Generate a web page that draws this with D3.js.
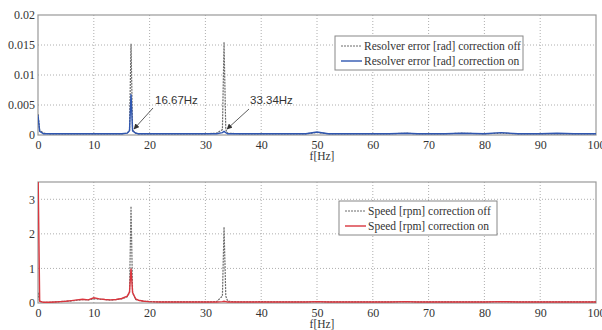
<!DOCTYPE html>
<html>
<head>
<meta charset="utf-8">
<script src="https://cdn.jsdelivr.net/npm/d3@7"></script>
<style>
  body { margin: 0; background: #fff; }
</style>
</head>
<body>
<svg id="chart" width="602" height="330"></svg>
<script>
/* shared frequency points (Hz) */
const freq = [0, 0.3, 1, 2, 3, 4, 5, 6, 7, 8, 9, 10, 11, 12, 13, 14, 15, 16, 16.4, 16.67, 16.95, 17.5, 18, 19, 20,
  22, 24, 26, 28, 30, 32, 33.05, 33.34, 33.65, 34, 36, 38, 40, 42, 45, 48, 50, 52, 55, 58, 60, 63, 66, 68, 70,
  73, 76, 80, 83, 86, 90, 93, 96, 100];

/* resolver error [rad] */
const errOff = [0.0035, 0.0008, 0.0003, 0.0002, 0.0002, 0.0002, 0.0002, 0.0002, 0.0002, 0.0002, 0.0002, 0.0002,
  0.0002, 0.0002, 0.0002, 0.0002, 0.0002, 0.0003, 0.0008, 0.0152, 0.0008, 0.0003, 0.0002, 0.0002, 0.0002,
  0.0002, 0.0002, 0.0002, 0.0002, 0.0002, 0.0003, 0.0009, 0.0155, 0.0009, 0.0003, 0.0002, 0.0002, 0.0002,
  0.0002, 0.0002, 0.0002, 0.0004, 0.0002, 0.0002, 0.0002, 0.0002, 0.0002, 0.0003, 0.0002, 0.0002,
  0.0002, 0.0003, 0.0002, 0.0003, 0.0002, 0.0002, 0.0002, 0.0002, 0.0002];
const errOn = [0.0033, 0.0006, 0.0002, 0.0002, 0.0002, 0.0002, 0.0002, 0.0002, 0.0002, 0.0002, 0.0002, 0.0002,
  0.0002, 0.0002, 0.0002, 0.0002, 0.0002, 0.0003, 0.0007, 0.0068, 0.0007, 0.0003, 0.0002, 0.0002, 0.0002,
  0.0002, 0.0002, 0.0002, 0.0002, 0.0002, 0.0002, 0.0004, 0.0006, 0.0004, 0.0002, 0.0002, 0.0002, 0.0002,
  0.0002, 0.0002, 0.0002, 0.0005, 0.0002, 0.0002, 0.0002, 0.0002, 0.0002, 0.0003, 0.0002, 0.0002,
  0.0002, 0.0003, 0.0002, 0.0004, 0.0002, 0.0002, 0.0003, 0.0002, 0.0002];

/* speed [rpm] */
const speedOff = [0.3, 0.05, 0.02, 0.02, 0.03, 0.04, 0.05, 0.06, 0.08, 0.1, 0.09, 0.12, 0.11, 0.1, 0.08, 0.1,
  0.12, 0.18, 0.3, 2.8, 0.3, 0.1, 0.08, 0.05, 0.04, 0.03, 0.03, 0.03, 0.03, 0.03, 0.04, 0.2, 2.2, 0.2, 0.05,
  0.03, 0.03, 0.04, 0.03, 0.03, 0.03, 0.04, 0.03, 0.03, 0.03, 0.03, 0.03, 0.04, 0.03, 0.03,
  0.03, 0.03, 0.03, 0.04, 0.03, 0.03, 0.03, 0.03, 0.03];
const speedOn = [4.0, 0.05, 0.02, 0.02, 0.03, 0.04, 0.05, 0.07, 0.09, 0.11, 0.09, 0.15, 0.12, 0.1, 0.09, 0.1,
  0.13, 0.2, 0.32, 1.0, 0.3, 0.12, 0.08, 0.05, 0.04, 0.03, 0.03, 0.03, 0.03, 0.03, 0.03, 0.04, 0.05, 0.04, 0.03,
  0.03, 0.03, 0.03, 0.03, 0.03, 0.03, 0.04, 0.03, 0.03, 0.03, 0.03, 0.03, 0.04, 0.03, 0.03,
  0.03, 0.03, 0.03, 0.04, 0.03, 0.03, 0.03, 0.03, 0.03];

const xTicks = [0, 10, 20, 30, 40, 50, 60, 70, 80, 90, 100];
const errTicks = [0, 0.005, 0.01, 0.015, 0.02];
const speedTicks = [0, 1, 2, 3];

const offColor = "#6b6b6b";
const serif = "'Liberation Serif', 'Times New Roman', serif";
const svg = d3.select("#chart");

/* draw one panel */
function panel(cfg) {
  const x = d3.scaleLinear().domain([0, 100]).range([38, 596]);
  const y = d3.scaleLinear().domain(cfg.yDomain).range([cfg.bottom, cfg.top]);
  const g = svg.append("g");

  g.append("clipPath").attr("id", cfg.id)
    .append("rect").attr("x", 38).attr("y", cfg.top).attr("width", 558).attr("height", cfg.bottom - cfg.top);

  /* grid */
  g.selectAll(".gx").data(xTicks.slice(1, -1)).enter().append("line")
    .attr("x1", d => x(d)).attr("x2", d => x(d)).attr("y1", cfg.top).attr("y2", cfg.bottom)
    .attr("stroke", "#999").attr("stroke-dasharray", "1,2").attr("stroke-width", 0.8);
  g.selectAll(".gy").data(cfg.yTicks.filter(t => t > cfg.yDomain[0] && t < cfg.yDomain[1])).enter().append("line")
    .attr("x1", 38).attr("x2", 596).attr("y1", d => y(d)).attr("y2", d => y(d))
    .attr("stroke", "#999").attr("stroke-dasharray", "1,2").attr("stroke-width", 0.8);

  /* axes */
  g.append("g").attr("transform", `translate(0,${cfg.bottom})`)
    .call(d3.axisBottom(x).tickValues(xTicks).tickSize(0).tickPadding(5).tickFormat(d3.format("d")))
    .call(a => a.select(".domain").remove())
    .attr("font-family", serif).attr("font-size", 12)
    .selectAll("text").attr("fill", "#333");
  g.append("g").attr("transform", "translate(38,0)")
    .call(d3.axisLeft(y).tickValues(cfg.yTicks).tickSize(0).tickPadding(3).tickFormat(d => String(d)))
    .call(a => a.select(".domain").remove())
    .attr("font-family", serif).attr("font-size", 12)
    .selectAll("text").attr("fill", "#333");

  /* frame */
  g.append("rect").attr("x", 38).attr("y", cfg.top).attr("width", 558).attr("height", cfg.bottom - cfg.top)
    .attr("fill", "none").attr("stroke", "#999").attr("stroke-width", 1.2);

  const line = d3.line().x(d => x(d[0])).y(d => y(d[1]));
  const lines = g.append("g").attr("clip-path", `url(#${cfg.id})`);
  lines.append("path").datum(freq.map((f, i) => [f, cfg.off[i]]))
    .attr("d", line).attr("fill", "none").attr("stroke", offColor).attr("stroke-width", 1.2)
    .attr("stroke-dasharray", "2,1");
  lines.append("path").datum(freq.map((f, i) => [f, cfg.on[i]]))
    .attr("d", line).attr("fill", "none").attr("stroke", cfg.onColor).attr("stroke-width", 1.4);

  /* x label */
  g.append("text").attr("x", 322).attr("y", cfg.bottom + 25)
    .attr("font-family", serif).attr("font-size", 11.5).attr("fill", "#333")
    .attr("text-anchor", "middle").text("f[Hz]");

  /* legend */
  const lg = g.append("g").attr("font-family", serif).attr("font-size", 11.5).attr("fill", "#333");
  lg.append("rect").attr("x", cfg.legX).attr("y", cfg.legY).attr("width", cfg.legW).attr("height", 34)
    .attr("fill", "#fff").attr("stroke", "#888");
  cfg.labels.forEach((t, i) => {
    const yy = cfg.legY + 10 + i * 15;
    lg.append("line").attr("x1", cfg.legX + 6).attr("x2", cfg.legX + 27).attr("y1", yy).attr("y2", yy)
      .attr("stroke", i === 0 ? offColor : cfg.onColor).attr("stroke-width", i === 0 ? 1 : 1.4)
      .attr("stroke-dasharray", i === 0 ? "2,1" : null);
    lg.append("text").attr("x", cfg.legX + 29).attr("y", yy + 4).text(t);
  });
  return {x, y, g};
}

const topPanel = panel({
  id: "clipTop", top: 15, bottom: 135, yDomain: [0, 0.02], yTicks: errTicks,
  off: errOff, on: errOn, onColor: "#2f56b0",
  legX: 335, legY: 36, legW: 188,
  labels: ["Resolver error [rad] correction off", "Resolver error [rad] correction on"]
});

panel({
  id: "clipBot", top: 182, bottom: 303, yDomain: [0, 3.5], yTicks: speedTicks,
  off: speedOff, on: speedOn, onColor: "#d9363e",
  legX: 339, legY: 201, legW: 158,
  labels: ["Speed [rpm] correction off", "Speed [rpm] correction on"]
});

/* annotations on the top panel */
svg.append("defs").append("marker").attr("id", "arr").attr("viewBox", "0 0 10 10")
  .attr("refX", 9).attr("refY", 5).attr("markerWidth", 7).attr("markerHeight", 7).attr("orient", "auto")
  .append("path").attr("d", "M0,0 L10,5 L0,10 z").attr("fill", "#333");
const notes = [{f: 16.67, v: 0.0005, label: "16.67Hz", tx: 155, ty: 104, sx: 153, sy: 108},
               {f: 33.34, v: 0.0005, label: "33.34Hz", tx: 250, ty: 104, sx: 249, sy: 109}];
notes.forEach(n => {
  svg.append("line").attr("x1", n.sx).attr("y1", n.sy)
    .attr("x2", topPanel.x(n.f) + 3).attr("y2", topPanel.y(n.v) - 3)
    .attr("stroke", "#333").attr("stroke-width", 0.8).attr("marker-end", "url(#arr)");
  svg.append("text").attr("x", n.tx).attr("y", n.ty)
    .attr("font-family", "'Liberation Sans', Arial, sans-serif").attr("font-size", 11.5).attr("fill", "#333")
    .text(n.label);
});
</script>
</body>
</html>
